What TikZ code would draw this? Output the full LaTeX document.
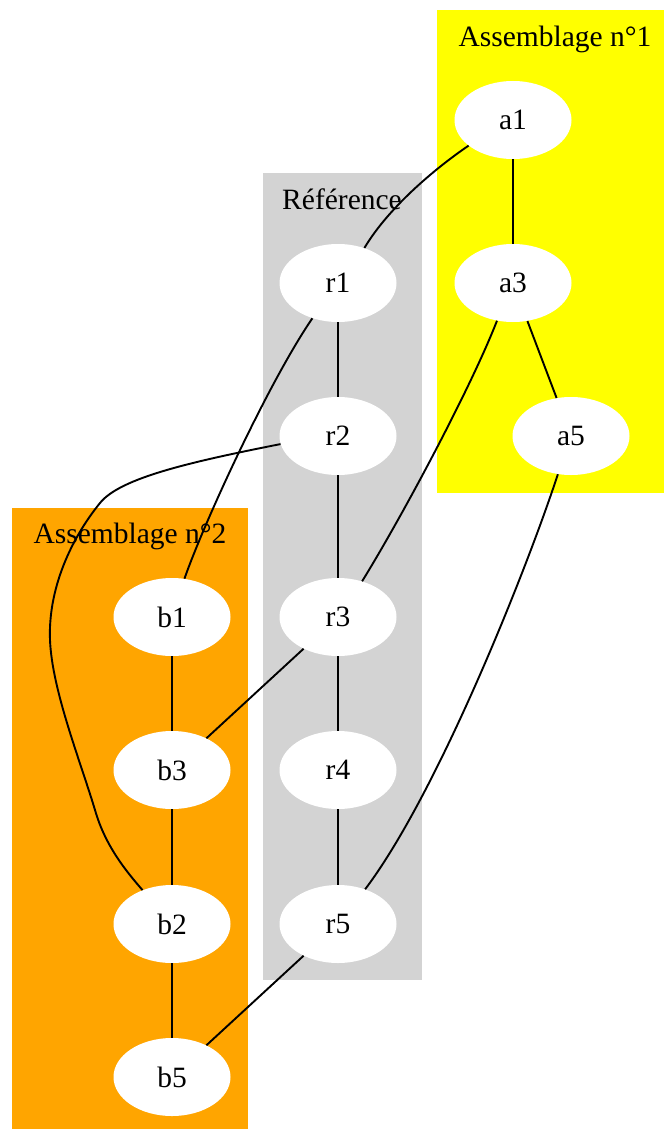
\documentclass[tikz,border=0pt]{standalone}
\usepackage{fontspec}
\setmainfont{Liberation Serif}
\usetikzlibrary{shapes.geometric}
\definecolor{refgray}{RGB}{211,211,211}
\definecolor{asmorange}{RGB}{255,165,0}
\definecolor{asmyellow}{RGB}{255,255,0}
\tikzset{
  gnode/.style={ellipse, fill=white, draw=none, inner sep=0pt,
    minimum width=117pt, minimum height=78pt,
    font=\fontsize{29.5}{35}\selectfont},
  clabel/.style={anchor=base, inner sep=0pt, font=\fontsize{29.5}{35}\selectfont},
  link/.style={line width=1.9pt, black},
}
\begin{document}
\begin{tikzpicture}[x=1pt, y=-1pt]
\useasboundingbox (0,0) rectangle (664,1129);
% cluster backgrounds
\fill[asmyellow] (437,10) rectangle (664,493);
\fill[refgray] (263,173) rectangle (422,980);
\fill[asmorange] (12,508) rectangle (248,1129);
% cluster titles
\node[clabel] (t1) at (555,47) {Assemblage n°1};
\node[clabel] (tr) at (342,209) {Référence};
\node[clabel] (t2) at (130,543) {Assemblage n°2};
% nodes
\node[gnode] (a1) at (513,120) {a1};
\node[gnode] (a3) at (513,283) {a3};
\node[gnode] (a5) at (571,436) {a5};
\node[gnode] (r1) at (338,283) {r1};
\node[gnode] (r2) at (338,436) {r2};
\node[gnode] (r3) at (338,617) {r3};
\node[gnode] (r4) at (338,770) {r4};
\node[gnode] (r5) at (338,924) {r5};
\node[gnode] (b1) at (172,617) {b1};
\node[gnode] (b3) at (172,770) {b3};
\node[gnode] (b2) at (172,924) {b2};
\node[gnode] (b5) at (172,1077) {b5};
% straight edges
\draw[link] (a1) -- (a3);
\draw[link] (a3) -- (a5);
\draw[link] (r1) -- (r2);
\draw[link] (r2) -- (r3);
\draw[link] (r3) -- (r4);
\draw[link] (r4) -- (r5);
\draw[link] (b1) -- (b3);
\draw[link] (b3) -- (b2);
\draw[link] (b2) -- (b5);
\draw[link] (r3) -- (b3);
\draw[link] (r5) -- (b5);
% curved edges
\draw[link] (a1.210) .. controls (440,165) and (390,205) .. (r1.53);
\draw[link] (r1.234) .. controls (270,380) and (205,520) .. (b1.72);
\draw[link] (a3.247) .. controls (470,390) and (400,520) .. (r3.56);
\draw[link] (a5.251) .. controls (530,560) and (440,790) .. (r5.52);
\draw[link] (r2.188) .. controls (190,462) and (120,478) .. (100,503)
  .. controls (70,540) and (48,590) .. (50,640)
  .. controls (52,690) and (80,760) .. (95,810)
  .. controls (105,845) and (125,870) .. (b2.131);
\end{tikzpicture}
\end{document}
